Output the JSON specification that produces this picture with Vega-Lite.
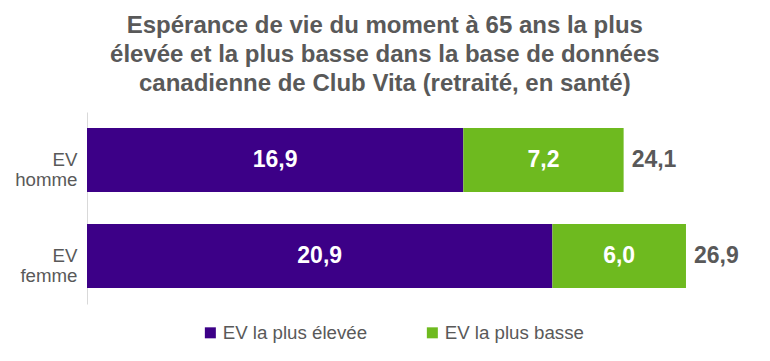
{
  "$schema": "https://vega.github.io/schema/vega-lite/v6.json",
  "width": 668,
  "height": 192,
  "autosize": {"type": "pad"},
  "padding": {"left": 14, "top": 14, "right": 5, "bottom": 5},
  "config": {
    "locale": {"number": {"decimal": ",", "thousands": " ", "grouping": [3], "currency": ["", " $"]}},
    "view": {"stroke": null},
    "font": "Liberation Sans"
  },
  "title": {
    "text": ["Espérance de vie du moment à 65 ans la plus", "élevée et la plus basse dans la base de données", "canadienne de Club Vita (retraité, en santé)"],
    "fontSize": 24,
    "fontWeight": "bold",
    "color": "#595959",
    "lineHeight": 29,
    "anchor": "middle",
    "frame": "bounds",
    "offset": 16
  },
  "data": {
    "values": [
      {"cat": "EV homme", "serie": "EV la plus élevée", "ordre": 1, "valeur": 16.9},
      {"cat": "EV homme", "serie": "EV la plus basse", "ordre": 2, "valeur": 7.2},
      {"cat": "EV femme", "serie": "EV la plus élevée", "ordre": 1, "valeur": 20.9},
      {"cat": "EV femme", "serie": "EV la plus basse", "ordre": 2, "valeur": 6.0}
    ]
  },
  "encoding": {
    "y": {
      "field": "cat",
      "type": "nominal",
      "sort": ["EV homme", "EV femme"],
      "scale": {"paddingInner": 0.3333, "paddingOuter": 0.1667},
      "axis": {
        "title": null,
        "ticks": false,
        "domainColor": "#d9d9d9",
        "domainWidth": 1,
        "labelExpr": "split(datum.label, ' ')",
        "labelFontSize": 18.7,
        "labelColor": "#595959",
        "labelLineHeight": 20,
        "labelPadding": 10,
        "labelFont": "Liberation Sans"
      }
    }
  },
  "layer": [
    {
      "mark": {"type": "bar"},
      "encoding": {
        "x": {"field": "valeur", "type": "quantitative", "stack": "zero", "scale": {"domain": [0, 30], "nice": false}, "axis": null},
        "color": {
          "field": "serie",
          "type": "nominal",
          "sort": ["EV la plus élevée", "EV la plus basse"],
          "scale": {"domain": ["EV la plus élevée", "EV la plus basse"], "range": ["#3c0087", "#6eba1f"]},
          "legend": {
            "title": null,
            "orient": "none",
            "legendX": 114,
            "legendY": 211,
            "direction": "horizontal",
            "symbolType": "square",
            "symbolSize": 121,
            "symbolStrokeWidth": 0,
            "labelFontSize": 18.7,
            "labelColor": "#595959",
            "labelFont": "Liberation Sans",
            "columnPadding": 55,
            "labelOffset": 3
          }
        },
        "order": {"field": "ordre", "type": "quantitative"}
      }
    },
    {
      "transform": [
        {"stack": "valeur", "groupby": ["cat"], "sort": [{"field": "ordre", "order": "ascending"}], "as": ["v0", "v1"]},
        {"calculate": "(datum.v0 + datum.v1) / 2", "as": "milieu"}
      ],
      "mark": {"type": "text", "color": "white", "fontSize": 23, "fontWeight": "bold", "align": "center", "baseline": "middle"},
      "encoding": {
        "x": {"field": "milieu", "type": "quantitative"},
        "text": {"field": "valeur", "type": "quantitative", "format": ".1f"}
      }
    },
    {
      "transform": [
        {"aggregate": [{"op": "sum", "field": "valeur", "as": "total"}], "groupby": ["cat"]}
      ],
      "mark": {"type": "text", "color": "#595959", "fontSize": 23, "fontWeight": "bold", "align": "left", "baseline": "middle", "dx": 8},
      "encoding": {
        "x": {"field": "total", "type": "quantitative"},
        "text": {"field": "total", "type": "quantitative", "format": ".1f"}
      }
    }
  ]
}
